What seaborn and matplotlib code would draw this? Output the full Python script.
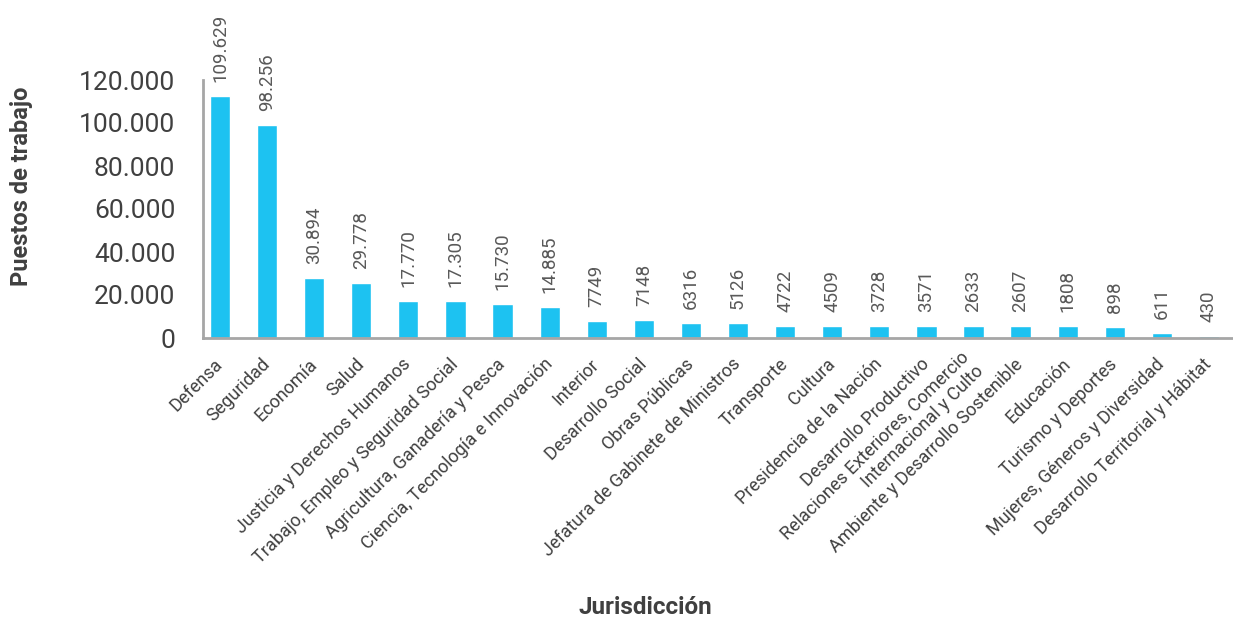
import matplotlib
matplotlib.use("Agg")
import matplotlib.pyplot as plt
import seaborn as sb
import pandas as pd

#================================================
# DATA

jurisdicciones = [
    'Defensa', 'Seguridad', 'Economía', 'Salud', 'Justicia y Derechos Humanos',
    'Trabajo, Empleo y Seguridad Social', 'Agricultura, Ganadería y Pesca',
    'Ciencia, Tecnología e Innovación', 'Interior', 'Desarrollo Social',
    'Obras Públicas', 'Jefatura de Gabinete de Ministros', 'Transporte', 'Cultura',
    'Presidencia de la Nación', 'Desarrollo Productivo',
    'Relaciones Exteriores, Comercio\nInternacional y Culto',
    'Ambiente y Desarrollo Sostenible', 'Educación', 'Turismo y Deportes',
    'Mujeres, Géneros y Diversidad', 'Desarrollo Territorial y Hábitat',
]
# bar heights as drawn in the picture
alturas = [112500, 99000, 27700, 25400, 17000, 17000, 15600, 14200, 7700, 8600,
           7200, 6750, 5800, 5800, 5800, 5800, 5800, 5800, 5800, 4900, 2100, 1150]
# value labels as printed above the bars
etiquetas = ['109.629', '98.256', '30.894', '29.778', '17.770', '17.305', '15.730',
             '14.885', '7749', '7148', '6316', '5126', '4722', '4509', '3728', '3571',
             '2633', '2607', '1808', '898', '611', '430']
y_ticks = [0, 20000, 40000, 60000, 80000, 100000, 120000]
y_tick_labels = ['0', '20.000', '40.000', '60.000', '80.000', '100.000', '120.000']

df = pd.DataFrame({'Jurisdiccion': jurisdicciones, 'Puestos': alturas})

#================================================
# PLOT

sb.set_style('white')
plt.rcParams['font.family'] = ['Roboto', 'DejaVu Sans']

fig = plt.figure(figsize=(12.33, 6.19), dpi=100)
ax = fig.add_axes([203 / 1233, 281 / 619, 1030 / 1233, 258 / 619])

sb.barplot(data=df, x='Jurisdiccion', y='Puestos', color='#1DC2F1',
           saturation=1, width=0.43, ax=ax)

# value labels above bars
for i, (h, t) in enumerate(zip(alturas, etiquetas)):
    ax.annotate(t, xy=(i, h), xytext=(0, 14), textcoords='offset pixels',
                rotation=90, ha='center', va='bottom', fontsize=13.5,
                color='#595959', annotation_clip=False)

ax.set_ylim(0, 120000)
ax.set_xlim(-0.36, 21.51)
ax.set_yticks(y_ticks)
ax.set_yticklabels(y_tick_labels, fontsize=19, color='#404040')
ax.set_xticks(range(len(jurisdicciones)))
ax.set_xticklabels(jurisdicciones, rotation=45, ha='right', va='center',
                   rotation_mode='anchor', multialignment='right',
                   fontsize=13, color='#404040')
ax.tick_params(axis='y', length=6, width=1.5, color='#a6a6a6', pad=14, direction='out')
ax.tick_params(axis='x', length=0, pad=17)

for s in ['top', 'right']:
    ax.spines[s].set_visible(False)
for s in ['left', 'bottom']:
    ax.spines[s].set_color('#a6a6a6')
    ax.spines[s].set_linewidth(2)

ax.set_xlabel('')
ax.set_ylabel('')
fig.text(22 / 1233, 1 - 186 / 619, 'Puestos de trabajo', rotation=90, ha='center',
         va='center', fontsize=17, fontweight='bold', color='#404040')
fig.text(645 / 1233, 1 - 608 / 619, 'Jurisdicción', ha='center', va='center',
         fontsize=17.5, fontweight='bold', color='#404040')

fig.savefig('out.png', dpi=100)
